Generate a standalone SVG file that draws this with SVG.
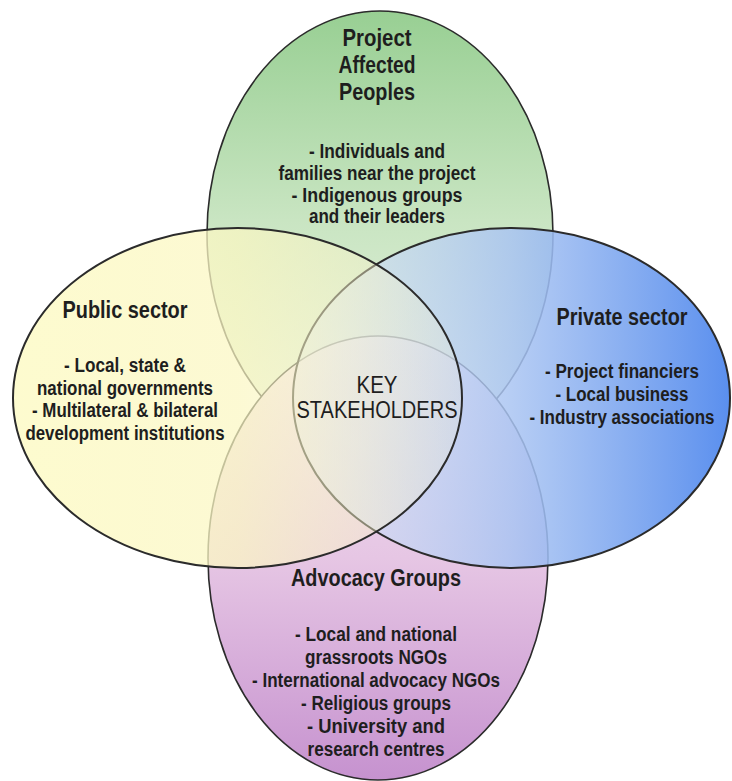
<svg xmlns="http://www.w3.org/2000/svg" width="732" height="781" viewBox="0 0 732 781">
  <defs>
    <!-- fills for the four overlapping ellipses -->
    <linearGradient id="gGreen" gradientUnits="userSpaceOnUse" x1="0" y1="11" x2="0" y2="457">
      <stop offset="0" stop-color="#98cf93"/>
      <stop offset="0.47" stop-color="#c9e5c2"/>
      <stop offset="1" stop-color="#eef6e8"/>
    </linearGradient>
    <linearGradient id="gPurple" gradientUnits="userSpaceOnUse" x1="0" y1="336" x2="0" y2="780">
      <stop offset="0" stop-color="#f4e8f2"/>
      <stop offset="0.5" stop-color="#e6c6e4"/>
      <stop offset="1" stop-color="#c692cf"/>
    </linearGradient>
    <linearGradient id="gBlue" gradientUnits="userSpaceOnUse" x1="293" y1="0" x2="730" y2="0">
      <stop offset="0" stop-color="#dfe8f6" stop-opacity="0.55"/>
      <stop offset="0.5" stop-color="#a9c4f2" stop-opacity="0.85"/>
      <stop offset="1" stop-color="#5a8fee" stop-opacity="1"/>
    </linearGradient>
    <linearGradient id="gYellow" gradientUnits="userSpaceOnUse" x1="13" y1="0" x2="462" y2="0">
      <stop offset="0" stop-color="#fdfbcc" stop-opacity="0.95"/>
      <stop offset="0.5" stop-color="#fbf7c2" stop-opacity="0.72"/>
      <stop offset="1" stop-color="#f8f2d0" stop-opacity="0.25"/>
    </linearGradient>
  </defs>
  <style>
    .ring { stroke: #2b2b2b; stroke-width: 1.6; }
    .ring-top { stroke: #2b2b2b; stroke-width: 2; }
    text { font-family: "Liberation Sans", Arial, sans-serif; fill: #1e1e1e; text-anchor: middle; }
    .title { font-size: 23px; font-weight: bold; }
    .body { font-size: 20px; font-weight: bold; }
    .core { font-size: 24px; font-weight: normal; }
  </style>

  <!-- Project Affected Peoples (top) -->
  <g id="node-project-affected">
    <ellipse class="ring" cx="380" cy="234" rx="173" ry="223" fill="url(#gGreen)"/>
    <text class="title" x="377" y="46" textLength="69" lengthAdjust="spacingAndGlyphs">Project</text>
    <text class="title" x="377" y="73" textLength="77" lengthAdjust="spacingAndGlyphs">Affected</text>
    <text class="title" x="377" y="100" textLength="76" lengthAdjust="spacingAndGlyphs">Peoples</text>
    <text class="body" x="377" y="158" textLength="136" lengthAdjust="spacingAndGlyphs">- Individuals and</text>
    <text class="body" x="377" y="180" textLength="197" lengthAdjust="spacingAndGlyphs">families near the project</text>
    <text class="body" x="377" y="201.5" textLength="171" lengthAdjust="spacingAndGlyphs">- Indigenous groups</text>
    <text class="body" x="377" y="223" textLength="136" lengthAdjust="spacingAndGlyphs">and their leaders</text>
  </g>

  <!-- Advocacy Groups (bottom) -->
  <g id="node-advocacy">
    <ellipse class="ring" cx="378" cy="558" rx="170" ry="222" fill="url(#gPurple)"/>
    <text class="title" x="376" y="586" textLength="170" lengthAdjust="spacingAndGlyphs">Advocacy Groups</text>
    <text class="body" x="376" y="641" textLength="162" lengthAdjust="spacingAndGlyphs">- Local and national</text>
    <text class="body" x="376" y="664" textLength="142" lengthAdjust="spacingAndGlyphs">grassroots NGOs</text>
    <text class="body" x="376" y="687" textLength="248" lengthAdjust="spacingAndGlyphs">- International advocacy NGOs</text>
    <text class="body" x="376" y="710" textLength="150" lengthAdjust="spacingAndGlyphs">- Religious groups</text>
    <text class="body" x="376" y="733" textLength="138" lengthAdjust="spacingAndGlyphs">- University and</text>
    <text class="body" x="376" y="756" textLength="137" lengthAdjust="spacingAndGlyphs">research centres</text>
  </g>

  <!-- Private sector (right) -->
  <g id="node-private">
    <ellipse class="ring-top" cx="511.5" cy="398" rx="218.5" ry="170" fill="url(#gBlue)"/>
    <text class="title" x="622" y="325" textLength="131" lengthAdjust="spacingAndGlyphs">Private sector</text>
    <text class="body" x="622" y="378" textLength="154" lengthAdjust="spacingAndGlyphs">- Project financiers</text>
    <text class="body" x="622" y="401" textLength="133" lengthAdjust="spacingAndGlyphs">- Local business</text>
    <text class="body" x="622" y="424" textLength="185" lengthAdjust="spacingAndGlyphs">- Industry associations</text>
  </g>

  <!-- Public sector (left) -->
  <g id="node-public">
    <ellipse class="ring-top" cx="237.5" cy="398" rx="224.5" ry="170" fill="url(#gYellow)"/>
    <text class="title" x="125" y="318" textLength="125" lengthAdjust="spacingAndGlyphs">Public sector</text>
    <text class="body" x="125" y="372" textLength="122" lengthAdjust="spacingAndGlyphs">- Local, state &amp;</text>
    <text class="body" x="125" y="395" textLength="176" lengthAdjust="spacingAndGlyphs">national governments</text>
    <text class="body" x="125" y="417" textLength="186" lengthAdjust="spacingAndGlyphs">- Multilateral &amp; bilateral</text>
    <text class="body" x="125" y="440" textLength="199" lengthAdjust="spacingAndGlyphs">development institutions</text>
  </g>

  <!-- shared centre where all four sets meet -->
  <g id="node-key-stakeholders">
    <text class="core" x="377" y="393" textLength="41" lengthAdjust="spacingAndGlyphs">KEY</text>
    <text class="core" x="377" y="418" textLength="161" lengthAdjust="spacingAndGlyphs">STAKEHOLDERS</text>
  </g>
</svg>
